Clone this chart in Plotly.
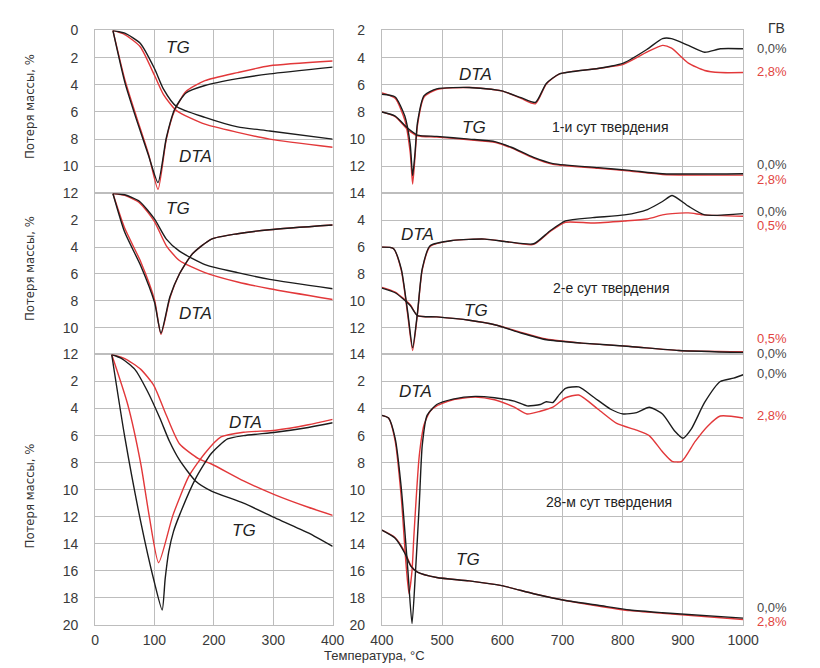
import plotly.graph_objects as go

# ---------------- data: temperature (°C) and curve values in axis units ----------------
# Left column, 1st day of hardening (0-400 °C)
l1_tg_t = [30, 50, 76, 100, 115, 137, 185, 240, 294, 400]
l1_tg_black = [0, 0.2, 0.94, 2.8, 4.3, 5.6, 6.4, 7.1, 7.4, 8.0]
l1_tg_red = [0, 0.3, 1.2, 3.3, 4.7, 5.9, 6.9, 7.5, 8.0, 8.6]
l1_dta_t = [30, 50, 70, 90, 106, 120, 134, 153, 185, 240, 294, 400]
l1_dta_black = [0, 3.8, 6.6, 9.2, 11.2, 7.9, 5.8, 4.6, 4.05, 3.55, 3.2, 2.7]
l1_dta_red = [0, 3.6, 6.4, 9.1, 11.7, 8.0, 5.9, 4.5, 3.7, 3.1, 2.6, 2.25]

# Left column, 2nd day
l2_tg_t = [30, 50, 75, 100, 120, 142, 185, 240, 294, 400]
l2_tg_black = [0, 0.1, 0.6, 1.9, 3.4, 4.3, 5.3, 5.9, 6.4, 7.1]
l2_tg_red = [0, 0.15, 0.7, 2.1, 3.9, 5.0, 5.9, 6.6, 7.1, 7.9]
l2_dta_t = [30, 50, 77, 100, 111, 126, 142, 164, 196, 240, 294, 400]
l2_dta_black = [0, 2.9, 5.4, 8.1, 10.4, 7.7, 6.0, 4.5, 3.4, 3.0, 2.7, 2.35]
l2_dta_red = [0, 2.6, 5.1, 7.9, 10.5, 7.8, 6.0, 4.5, 3.4, 3.0, 2.7, 2.35]

# Left column, 28th day
l3_tg_black_t = [28, 45, 67, 88, 109, 125, 142, 169, 196, 250, 304, 359, 400]
l3_tg_black = [0, 0.3, 1.1, 2.7, 4.7, 6.4, 7.8, 9.35, 10.1, 11.0, 12.1, 13.2, 14.2]
l3_tg_red_t = [28, 50, 77, 99, 120, 142, 174, 196, 250, 304, 359, 400]
l3_tg_red = [0, 0.3, 1.1, 2.3, 4.5, 6.6, 7.7, 8.1, 9.35, 10.4, 11.3, 11.9]
l3_dta_black_t = [28, 50, 77, 99, 113, 118, 124, 132, 142, 169, 196, 223, 250, 304, 359, 400]
l3_dta_black = [0, 6.1, 12.4, 16.7, 18.9, 16.6, 14.6, 13.1, 11.9, 9.2, 7.3, 6.25, 6.0, 5.75, 5.4, 5.05]
l3_dta_red_t = [28, 55, 77, 91, 107, 131, 158, 185, 212, 250, 304, 359, 400]
l3_dta_red = [0, 3.7, 8.1, 11.9, 15.4, 11.9, 9.0, 7.3, 6.1, 5.75, 5.6, 5.2, 4.8]

# Right column, 1st day (400-1000 °C)
r1_dta_t = [400, 422, 438, 447, 451, 455, 459, 470, 491, 545, 599, 631, 655, 673, 695,
            759, 801, 840, 866, 881, 909, 936, 962, 1000]
r1_dta_black = [6.7, 6.9, 8.3, 10.4, 12.7, 11.0, 8.8, 6.8, 6.3, 6.2, 6.45, 6.95, 7.3, 5.9, 5.2,
                4.8, 4.4, 3.4, 2.6, 2.6, 3.1, 3.6, 3.35, 3.35]
r1_dta_red = [6.6, 7.0, 8.6, 11.0, 13.3, 11.3, 9.0, 6.9, 6.35, 6.2, 6.45, 7.0, 7.4, 5.95, 5.2,
              4.8, 4.5, 3.6, 3.1, 3.3, 4.4, 4.95, 5.1, 5.1]
r1_tg_t = [400, 422, 443, 459, 491, 545, 589, 615, 652, 684, 759, 812, 866, 1000]
r1_tg_black = [8.0, 8.3, 9.2, 9.7, 9.8, 10.0, 10.2, 10.6, 11.35, 11.8, 12.1, 12.3, 12.55, 12.55]
r1_tg_red = [8.0, 8.35, 9.3, 9.75, 9.85, 10.05, 10.25, 10.65, 11.4, 11.85, 12.15, 12.35, 12.6, 12.65]

# Right column, 2nd day
r2_dta_t = [400, 419, 432, 443, 451, 459, 467, 480, 518, 571, 608, 652, 679, 705, 750,
            803, 841, 866, 882, 909, 936, 1000]
r2_dta_black = [6.0, 6.1, 7.6, 10.9, 13.5, 10.9, 7.6, 5.9, 5.5, 5.4, 5.6, 5.75, 4.8, 4.05, 3.8,
                3.6, 3.2, 2.6, 2.15, 2.95, 3.6, 3.5]
r2_dta_red = [6.0, 6.1, 7.7, 11.1, 13.7, 11.0, 7.7, 5.95, 5.5, 5.4, 5.6, 5.8, 4.85, 4.15, 4.2,
              4.05, 3.9, 3.6, 3.5, 3.45, 3.6, 3.7]
r2_tg_t = [400, 422, 447, 459, 491, 545, 589, 631, 673, 732, 812, 893, 1000]
r2_tg_black = [9.05, 9.4, 10.35, 11.1, 11.2, 11.45, 11.8, 12.4, 12.9, 13.15, 13.4, 13.7, 13.85]
r2_tg_red = [9.0, 9.35, 10.3, 11.1, 11.2, 11.45, 11.8, 12.35, 12.85, 13.15, 13.4, 13.7, 13.8]

# Right column, 28th day
r3_dta_black_t = [400, 411, 422, 432, 443, 450, 456, 462, 467, 475, 491, 518, 555, 587, 620,
                  641, 663, 673, 684, 695, 705, 727, 753, 780, 801, 823, 844, 866, 887, 900,
                  914, 936, 962, 984, 1000]
r3_dta_black = [4.5, 4.7, 6.2, 9.8, 15.9, 19.9, 15.9, 11.1, 6.7, 4.5, 3.7, 3.3, 3.1, 3.2, 3.45,
                3.8, 3.7, 3.5, 3.55, 2.95, 2.5, 2.4, 3.2, 4.05, 4.4, 4.3, 3.9, 4.4, 5.7, 6.2,
                5.5, 3.55, 2.0, 1.75, 1.5]
r3_dta_red_t = [400, 411, 422, 432, 440, 445, 450, 453, 462, 470, 480, 491, 518, 555, 587,
                620, 641, 663, 684, 705, 727, 759, 790, 823, 844, 866, 882, 898, 920, 941,
                962, 1000]
r3_dta_red = [4.5, 4.7, 6.4, 10.5, 15.5, 17.7, 16.0, 13.5, 7.5, 5.2, 4.2, 3.8, 3.35, 3.15, 3.35,
              3.9, 4.4, 4.2, 3.9, 3.2, 3.0, 4.05, 5.1, 5.6, 6.0, 7.2, 7.9, 7.9, 6.45, 5.3,
              4.55, 4.7]
r3_tg_t = [400, 422, 438, 448, 459, 491, 545, 599, 652, 705, 759, 812, 866, 1000]
r3_tg_black = [13.0, 13.6, 14.7, 15.65, 16.1, 16.5, 16.75, 17.1, 17.7, 18.2, 18.55, 18.9, 19.1, 19.5]
r3_tg_red = [13.0, 13.55, 14.6, 15.6, 16.1, 16.5, 16.75, 17.1, 17.7, 18.2, 18.6, 18.95, 19.15, 19.6]

# axis ticks
left_x_ticks = [0, 100, 200, 300, 400]
right_x_ticks = [400, 500, 600, 700, 800, 900, 1000]
y_ticks_12 = [0, 2, 4, 6, 8, 10, 12]
y_ticks_14 = [2, 4, 6, 8, 10, 12, 14]
y_ticks_20 = [0, 2, 4, 6, 8, 10, 12, 14, 16, 18, 20]

# ---------------- layout geometry ----------------
W, H = 820, 668
BLACK = "#1c1c1c"
RED = "#e2383a"
GRID = "#bdbdbd"
TICK_COLOR = "#3a3a3a"
FONT = "Liberation Sans, Arial, sans-serif"


def px_x(p):
    return p / W


def px_y(p):
    return 1 - p / H


col_dom = {"L": [px_x(86), px_x(332)], "R": [px_x(383), px_x(757)]}
row_dom = {1: [px_y(190), px_y(23)], 2: [px_y(355), px_y(190)], 3: [px_y(632), px_y(355)]}

panels = [
    # column, row, x range, y range, tick values, hidden tick labels
    ("L", 1, [0, 400], [12, 0], y_ticks_12, []),
    ("L", 2, [0, 400], [12, 0], y_ticks_12, [0]),
    ("L", 3, [0, 400], [20, 0], y_ticks_20, [0]),
    ("R", 1, [400, 1000], [14, 2], y_ticks_14, []),
    ("R", 2, [400, 1000], [14, 2], y_ticks_14, [2]),
    ("R", 3, [400, 1000], [20, 0], y_ticks_20, [0]),
]

fig = go.Figure()
layout = {}
for i, (col, row, xr, yr, yt, hidden) in enumerate(panels, start=1):
    sx = "" if i == 1 else str(i)
    xt = left_x_ticks if col == "L" else right_x_ticks
    layout["xaxis" + sx] = dict(
        domain=col_dom[col], range=xr, anchor="y" + sx,
        tickvals=xt, ticktext=[str(v) for v in xt],
        showticklabels=(row == 3), showgrid=True, gridcolor=GRID, gridwidth=1,
        showline=True, linecolor=GRID, mirror=True, zeroline=False,
        ticks="outside", ticklen=2, tickcolor="rgba(0,0,0,0)",
        tickfont=dict(size=14, color=TICK_COLOR, family=FONT),
    )
    layout["yaxis" + sx] = dict(
        domain=row_dom[row], range=yr, anchor="x" + sx,
        tickvals=yt, ticktext=["" if v in hidden else str(v) for v in yt],
        showgrid=True, gridcolor=GRID, gridwidth=1,
        showline=True, linecolor=GRID, mirror=True, zeroline=False,
        ticks="outside", ticklen=13, tickcolor="rgba(0,0,0,0)",
        tickfont=dict(size=14, color=TICK_COLOR, family=FONT),
    )

curves = [
    # panel index, temperatures, values, colour
    (1, l1_tg_t, l1_tg_red, RED), (1, l1_dta_t, l1_dta_red, RED),
    (1, l1_tg_t, l1_tg_black, BLACK), (1, l1_dta_t, l1_dta_black, BLACK),
    (2, l2_tg_t, l2_tg_red, RED), (2, l2_dta_t, l2_dta_red, RED),
    (2, l2_tg_t, l2_tg_black, BLACK), (2, l2_dta_t, l2_dta_black, BLACK),
    (3, l3_tg_red_t, l3_tg_red, RED), (3, l3_dta_red_t, l3_dta_red, RED),
    (3, l3_tg_black_t, l3_tg_black, BLACK), (3, l3_dta_black_t, l3_dta_black, BLACK),
    (4, r1_dta_t, r1_dta_red, RED), (4, r1_tg_t, r1_tg_red, RED),
    (4, r1_dta_t, r1_dta_black, BLACK), (4, r1_tg_t, r1_tg_black, BLACK),
    (5, r2_dta_t, r2_dta_red, RED), (5, r2_tg_t, r2_tg_red, RED),
    (5, r2_dta_t, r2_dta_black, BLACK), (5, r2_tg_t, r2_tg_black, BLACK),
    (6, r3_dta_red_t, r3_dta_red, RED), (6, r3_tg_t, r3_tg_red, RED),
    (6, r3_dta_black_t, r3_dta_black, BLACK), (6, r3_tg_t, r3_tg_black, BLACK),
]
for idx, t, v, c in curves:
    sx = "" if idx == 1 else str(idx)
    fig.add_trace(go.Scatter(
        x=t, y=v, mode="lines", xaxis="x" + sx, yaxis="y" + sx,
        line=dict(color=c, width=1.4, shape="spline", smoothing=0.6),
        showlegend=False, hoverinfo="skip",
    ))

annotations = []


def label(text, x, y, size=14, color="#222", italic=False, anchor="center", angle=0, family=FONT):
    annotations.append(dict(
        text=("<i>%s</i>" % text) if italic else text,
        x=px_x(x), y=px_y(y), xref="paper", yref="paper",
        xanchor=anchor, yanchor="middle", showarrow=False, textangle=angle,
        font=dict(size=size, color=color, family=family),
    ))


# curve names
for x, y, t in [(172, 40, "TG"), (190, 152, "DTA"), (172, 205, "TG"), (190, 313, "DTA"),
                (242, 425, "DTA"), (240, 535, "TG"), (480, 68, "DTA"), (478, 122, "TG"),
                (420, 232, "DTA"), (480, 310, "TG"), (418, 393, "DTA"), (472, 565, "TG")]:
    label(t, x, y, size=17, color="#222", italic=True)

# hardening age captions
label("1-и сут твердения", 620, 122, size=14, color="#222")
label("2-е сут твердения", 620, 287, size=14, color="#222")
label("28-м сут твердения", 618, 506, size=14, color="#222")

# additive content legend on the right edge
GREY_TXT = "#4a4a4a"
RED_TXT = "#e2453f"
label("ГВ", 792, 20, size=14, color="#333")
for y, t, c in [(41, "0,0%", GREY_TXT), (65, "2,8%", RED_TXT),
                (160, "0,0%", GREY_TXT), (176, "2,8%", RED_TXT),
                (208, "0,0%", GREY_TXT), (223, "0,5%", RED_TXT),
                (339, "0,5%", RED_TXT), (354, "0,0%", GREY_TXT),
                (374, "0,0%", GREY_TXT), (417, "2,8%", RED_TXT),
                (614, "0,0%", GREY_TXT), (629, "2,8%", RED_TXT)]:
    label(t, 769, y, size=13, color=c, anchor="left")

# axis titles
NARROW = "Liberation Sans Narrow, Arial Narrow, DejaVu Sans Condensed, sans-serif"
for y in (101, 267, 500):
    label("Потеря массы, %", 18, y, size=13, color="#333", angle=-90, family=NARROW)
label("Температура, °С", 375, 663, size=13, color="#333")

fig.update_layout(
    width=W, height=H,
    margin=dict(l=0, r=0, t=0, b=0),
    paper_bgcolor="white", plot_bgcolor="white",
    annotations=annotations,
    font=dict(family=FONT),
    **layout,
)

fig.write_html("out.html")
